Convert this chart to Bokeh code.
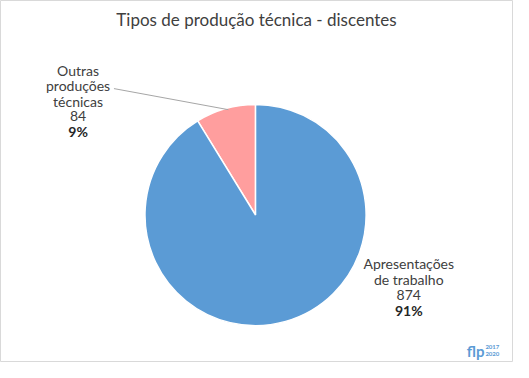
import math
from bokeh.plotting import figure
from bokeh.models import Range1d, ColumnDataSource
from bokeh.core.properties import value
from bokeh.embed import file_html
from bokeh.resources import INLINE

title = "Tipos de produção técnica - discentes"
categories = ["Outras produções técnicas", "Apresentações de trabalho"]
values = [84, 874]
colors = ["#FF9E9E", "#5B9BD5"]

W, H = 529, 378
p = figure(width=513, height=362, output_backend="svg", toolbar_location=None,
           x_range=Range1d(0, W), y_range=Range1d(0, H), min_border=0)
p.axis.visible = False
p.grid.visible = False
p.outline_line_color = "#D9D9D9"
p.background_fill_color = "white"

total = sum(values)
cx, cy, r = 263, H - 224, 114
starts, ends = [], []
a = math.pi / 2
for v in values:
    starts.append(a)
    a += 2 * math.pi * v / total
    ends.append(a)
src = ColumnDataSource(dict(start=starts, end=ends, color=colors))
p.wedge(x=cx, y=cy, radius=r, start_angle="start", end_angle="end",
        fill_color="color", line_color="white", line_width=1.5, source=src)

FONT = value("Lato")
p.text(x=[264], y=[H - 20], text=[title], text_font=FONT, text_font_size="17px",
       text_color="#404040", text_align="center", text_baseline="middle")

pct = [f"{round(100 * v / total)}%" for v in values]

# left label
lx = 80
left_lines = ["Outras", "produções", "técnicas", str(values[0])]
p.text(x=[lx] * 4, y=[H - y for y in (73, 89, 105, 121)], text=left_lines, text_font=FONT,
       text_font_size="14px", text_color="#404040", text_align="center", text_baseline="middle")
p.text(x=[lx], y=[H - 137], text=[pct[0]], text_font=FONT, text_font_size="14px",
       text_font_style="bold", text_color="#262626", text_align="center", text_baseline="middle")
p.line(x=[117, 235], y=[H - 92, H - 114], line_color="#A6A6A6", line_width=1)

# right label
rx = 421
right_lines = ["Apresentações", "de trabalho", str(values[1])]
p.text(x=[rx] * 3, y=[H - y for y in (275, 291, 308)], text=right_lines, text_font=FONT,
       text_font_size="14px", text_color="#404040", text_align="center", text_baseline="middle")
p.text(x=[rx], y=[H - 324], text=[pct[1]], text_font=FONT, text_font_size="14px",
       text_font_style="bold", text_color="#262626", text_align="center", text_baseline="middle")

# logo
p.text(x=[499], y=[H - 366], text=["flp"], text_font=FONT, text_font_size="15px",
       text_font_style="bold", text_color="#5B9BD5", text_align="right", text_baseline="middle")
p.text(x=[500, 500], y=[H - 362, H - 369], text=["2017", "2020"], text_font=FONT,
       text_font_size="6px", text_font_style="bold", text_color="#5B9BD5",
       text_align="left", text_baseline="middle")

open("out.html", "w").write(file_html(p, INLINE))
